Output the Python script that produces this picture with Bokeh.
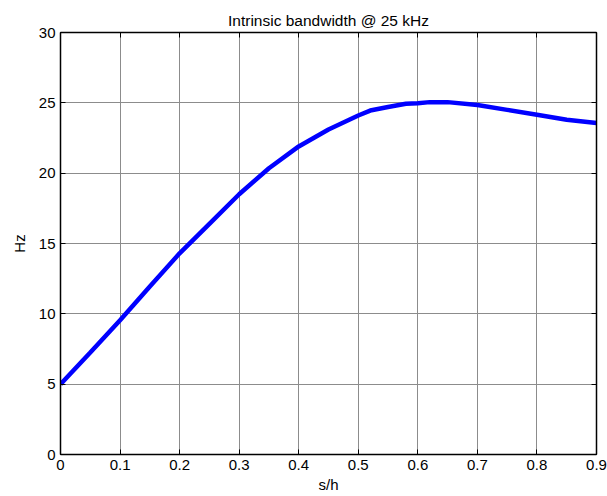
from bokeh.plotting import figure
from bokeh.models import LinearAxis, FixedTicker, Range1d
from bokeh.embed import file_html
from bokeh.resources import INLINE

# ---- data ----
s_h = [0.00, 0.05, 0.10, 0.15, 0.20, 0.25, 0.30, 0.35, 0.40, 0.45, 0.50,
       0.52, 0.55, 0.58, 0.60, 0.62, 0.65, 0.70, 0.75, 0.80, 0.85, 0.90]
bandwidth_hz = [5.0, 7.25, 9.55, 11.95, 14.3, 16.4, 18.5, 20.35, 21.9, 23.1, 24.1,
                24.45, 24.7, 24.93, 24.97, 25.05, 25.05, 24.85, 24.5, 24.15, 23.8, 23.57]

x_ticks = [0, 0.1, 0.2, 0.3, 0.4, 0.5, 0.6, 0.7, 0.8, 0.9]
x_tick_labels = ["0", "0.1", "0.2", "0.3", "0.4", "0.5", "0.6", "0.7", "0.8", "0.9"]
y_ticks = [0, 5, 10, 15, 20, 25, 30]
y_tick_labels = ["0", "5", "10", "15", "20", "25", "30"]

title_text = "Intrinsic bandwidth @ 25 kHz"
x_label = "s/h"
y_label = "Hz"

FONT = "Liberation Sans"
FS = "15px"

p = figure(width=607, height=496, output_backend="svg", toolbar_location=None,
           x_range=Range1d(0, 0.9), y_range=Range1d(0, 30),
           min_border_left=60, min_border_right=11, min_border_top=32, min_border_bottom=42,
           title=title_text)
p.background_fill_color = "white"
p.border_fill_color = "white"
p.outline_line_color = "black"
p.outline_line_width = 1

p.title.align = "center"
p.title.text_font = FONT
p.title.text_font_size = "15.5px"
p.title.text_font_style = "normal"
p.title.text_color = "black"
p.title.standoff = 8

p.line(s_h, bandwidth_hz, line_color="#0000ff", line_width=4.5)

def style_axis(ax, ticks, labels, show_labels=True):
    ax.ticker = FixedTicker(ticks=ticks)
    if show_labels:
        ax.major_label_overrides = {t: l for t, l in zip(ticks, labels)}
    else:
        ax.major_label_overrides = {t: "" for t in ticks}
    ax.major_tick_in = 5
    ax.major_tick_out = 0
    ax.minor_tick_in = 0
    ax.minor_tick_out = 0
    ax.axis_line_color = "black"
    ax.axis_line_width = 1.5
    ax.major_tick_line_color = "black"
    ax.major_label_text_font = FONT
    ax.major_label_text_font_size = FS
    ax.major_label_text_color = "black"
    ax.axis_label_text_font = FONT
    ax.axis_label_text_font_size = FS
    ax.axis_label_text_font_style = "normal"
    ax.axis_label_text_color = "black"

xa = p.xaxis[0]
ya = p.yaxis[0]
style_axis(xa, x_ticks, x_tick_labels)
style_axis(ya, y_ticks, y_tick_labels)
xa.axis_label = x_label
ya.axis_label = y_label
xa.major_label_standoff = 5
xa.axis_label_standoff = 3
ya.major_label_standoff = 5
ya.axis_label_standoff = 8

top = LinearAxis()
style_axis(top, x_ticks, x_tick_labels, show_labels=False)
top.major_label_standoff = 0
p.add_layout(top, "above")
right = LinearAxis()
style_axis(right, y_ticks, y_tick_labels, show_labels=False)
right.major_label_standoff = 0
p.add_layout(right, "right")

p.xgrid.ticker = FixedTicker(ticks=x_ticks)
p.ygrid.ticker = FixedTicker(ticks=y_ticks)
for g in (p.xgrid[0], p.ygrid[0]):
    g.grid_line_color = "#8c8c8c"
    g.grid_line_width = 1
    g.grid_line_alpha = 1.0

open("out.html", "w").write(file_html(p, INLINE))
